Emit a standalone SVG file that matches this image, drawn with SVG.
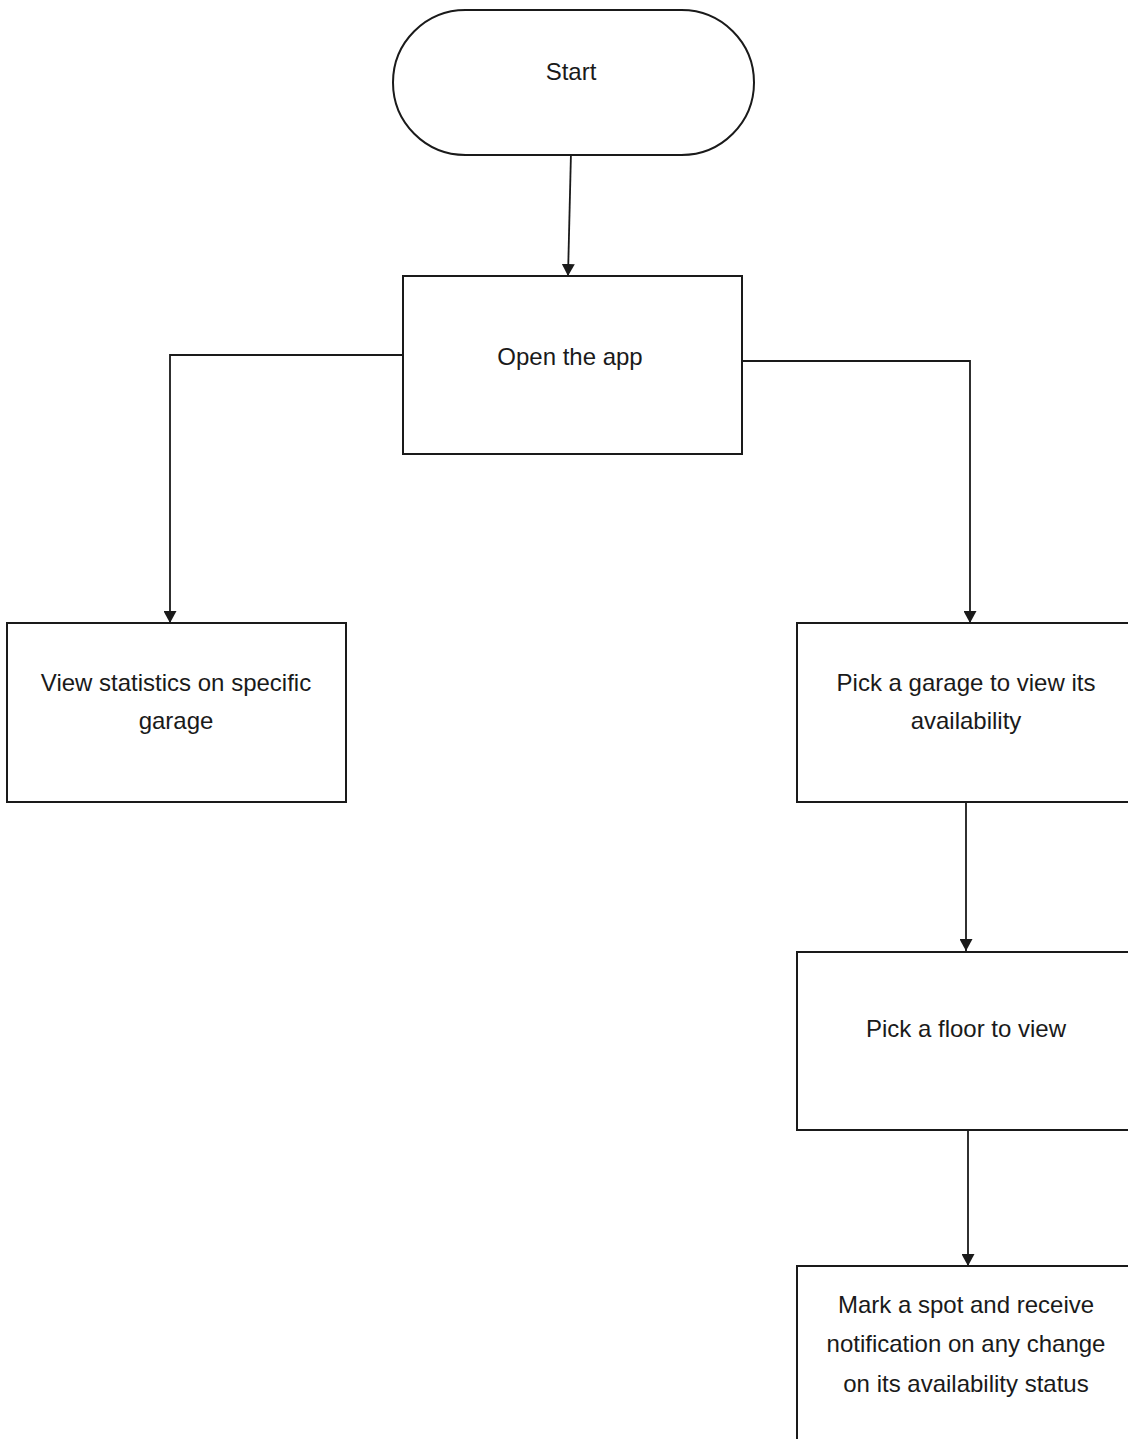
<svg xmlns="http://www.w3.org/2000/svg" width="1128" height="1439" viewBox="0 0 1128 1439">
<style>
.shape{fill:#ffffff;stroke:#1a1a1a;stroke-width:2}
.conn{fill:none;stroke:#1a1a1a;stroke-width:1.8}
.lbl{font-family:"Liberation Sans",Arial,sans-serif;font-size:24px;fill:#1a1a1a;text-anchor:middle}
</style>
<defs>
<marker id="arrow" viewBox="0 0 12 13" refX="12" refY="6.5" markerWidth="12" markerHeight="13" markerUnits="userSpaceOnUse" orient="auto">
<path d="M0,0 L12,6.5 L0,13 Z" fill="#1a1a1a"/>
</marker>
</defs>
<rect width="1128" height="1439" fill="#ffffff"/>
<g id="connectors">
<line class="conn" x1="571" y1="152" x2="568" y2="276" marker-end="url(#arrow)"/>
<polyline class="conn" points="403,355 170,355 170,623" marker-end="url(#arrow)"/>
<polyline class="conn" points="740,361 970,361 970,623" marker-end="url(#arrow)"/>
<line class="conn" x1="966" y1="800" x2="966" y2="951" marker-end="url(#arrow)"/>
<line class="conn" x1="968" y1="1129" x2="968" y2="1266" marker-end="url(#arrow)"/>
</g>
<g id="start">
<rect class="shape" x="393" y="10" width="361" height="145" rx="72.5" ry="72.5"/>
<text class="lbl" x="571" y="80">Start</text>
</g>
<g id="open-app">
<rect class="shape" x="403" y="276" width="339" height="178"/>
<text class="lbl" x="570" y="365">Open the app</text>
</g>
<g id="view-stats">
<rect class="shape" x="7" y="623" width="339" height="179"/>
<text class="lbl" x="176" y="691">View statistics on specific</text>
<text class="lbl" x="176" y="729">garage</text>
</g>
<g id="pick-garage">
<rect class="shape" x="797" y="623" width="339" height="179"/>
<text class="lbl" x="966" y="691">Pick a garage to view its</text>
<text class="lbl" x="966" y="729">availability</text>
</g>
<g id="pick-floor">
<rect class="shape" x="797" y="952" width="339" height="178"/>
<text class="lbl" x="966" y="1037">Pick a floor to view</text>
</g>
<g id="mark-spot">
<rect class="shape" x="797" y="1266" width="339" height="190"/>
<text class="lbl" x="966" y="1313">Mark a spot and receive</text>
<text class="lbl" x="966" y="1352">notification on any change</text>
<text class="lbl" x="966" y="1392">on its availability status</text>
</g>
</svg>
